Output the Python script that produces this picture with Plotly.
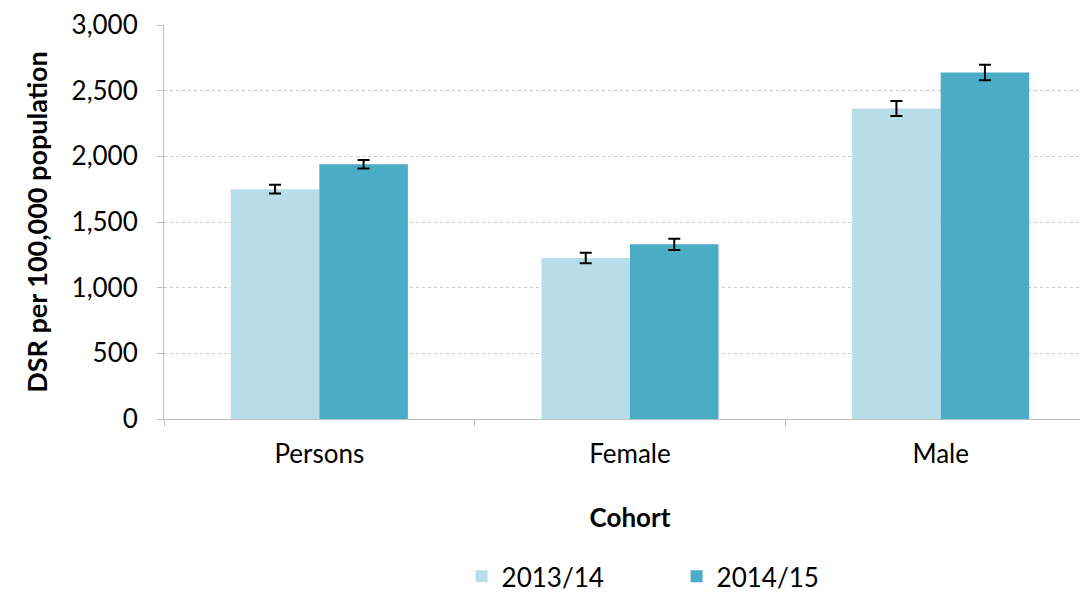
import plotly.graph_objects as go

categories = ["Persons", "Female", "Male"]
series_names = ["2013/14", "2014/15"]
values_1314 = [1750, 1225, 2365]
values_1415 = [1940, 1330, 2638]
err_1314 = [33, 40, 57]
err_1415 = [33, 43, 59]
colors = ["#B7DDE8", "#4BACC6"]
y_ticks = [0, 500, 1000, 1500, 2000, 2500, 3000]

font_family = "Lato, Open Sans, sans-serif"
fs = 26

fig = go.Figure()
for name, vals, errs, col in zip(series_names, [values_1314, values_1415],
                                 [err_1314, err_1415], colors):
    fig.add_trace(go.Bar(
        x=categories, y=vals, name=name, marker=dict(color=col, line=dict(width=0)),
        error_y=dict(type="data", array=errs, visible=True, color="black",
                     thickness=2, width=6),
    ))

fig.update_layout(
    width=1088, height=592,
    margin=dict(l=156, r=0, t=17, b=167),
    paper_bgcolor="white", plot_bgcolor="white",
    barmode="group", bargap=0.43, bargroupgap=0,
    font=dict(family=font_family, size=fs, color="black"),
    showlegend=True,
    legend=dict(orientation="h", x=0.55, xanchor="center", y=-0.34, yanchor="top",
                entrywidth=170, font=dict(size=fs), traceorder="normal"),
    xaxis=dict(
        automargin=False,
        title=dict(text="<b>Cohort</b>", font=dict(size=fs), standoff=40),
        showline=True, linecolor="#BFBFBF", linewidth=1,
        ticks="outside", tickson="boundaries", ticklen=6, tickcolor="#BFBFBF",
        tickfont=dict(size=fs), ticklabelstandoff=12,
    ),
    yaxis=dict(
        automargin=False,
        title=dict(text="<b>DSR per 100,000 population</b>", font=dict(size=27), standoff=16),
        range=[0, 3000], tickvals=y_ticks, tickformat=",",
        showgrid=True, gridcolor="#C8C8C8", griddash="dot", gridwidth=1,
        showline=True, linecolor="#BFBFBF", linewidth=1,
        ticks="outside", ticklen=6, tickcolor="#BFBFBF",
        tickfont=dict(size=fs), zeroline=False, ticklabelstandoff=14,
    ),
)

fig.write_html("out.html")
